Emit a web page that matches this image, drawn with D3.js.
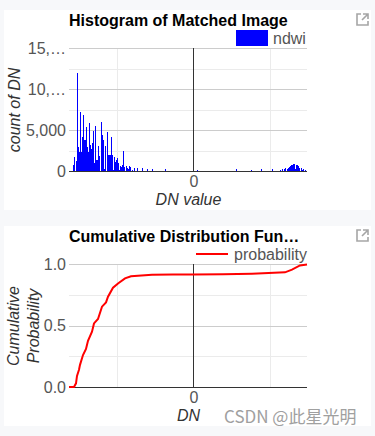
<!DOCTYPE html>
<html>
<head>
<meta charset="utf-8">
<script src="https://cdn.jsdelivr.net/npm/d3@7"></script>
<style>
  html, body { margin: 0; padding: 0; background: #f7f8fa; }
  svg { display: block; font-family: "Liberation Sans", Arial, sans-serif; }
</style>
</head>
<body>
<div id="chart"></div>
<script>
// histogram of matched image
const histDN = [-120,-119,-117,-116,-115,-114,-113,-112,-111,-110,-109,-108,-107,-106,-105,-104,-103,-102,-101,-100,-99,-98,-97,-96,-95,-94,-92,-91,-90,-89,-88,-86,-85,-84,-83,-82,-81,-80,-79,-78,-77,-76,-75,-74,-73,-72,-71,-70,-69,-67,-66,-65,-64,-63,-61,-59,-56,-51,-46,-41,-28,4,43,58,68,79,87,89,91,92,94,95,96,97,98,99,100,101,102,103,104,105,106,108,109,110,112];
const histCount = [700,1700,1200,11900,2900,2300,7200,2300,4200,6850,3800,3800,5400,2950,2300,5900,3200,2700,3400,4900,1000,5500,1350,1350,3000,1800,6000,4400,3800,300,3000,4800,1950,1950,1950,4150,1950,160,1700,1100,1380,1600,1000,150,570,500,770,2500,490,650,370,240,650,490,160,400,400,400,280,280,240,100,250,120,240,240,120,200,200,320,250,320,530,650,730,770,810,850,200,730,730,610,320,320,120,200,120,650];

// cumulative distribution
const cdfDN = [-124,-119,-117,-116,-114,-113,-110,-107,-105,-101,-99,-95,-91,-87,-85,-80,-75,-68,-62,-55,-41,-20,0,30,59,92,99,107,114];
const cdfProb = [0,0,0.03,0.09,0.14,0.18,0.26,0.31,0.375,0.45,0.517,0.553,0.653,0.688,0.734,0.807,0.842,0.883,0.9,0.905,0.913,0.915,0.915,0.916,0.921,0.932,0.954,0.988,0.995];

const dnDomain = [-124, 114];
const dnGrid = [-76, 77];
const countTicks = [0, 5000, 10000, 15000];
const countLabels = ["0", "5,000", "10,…", "15,…"];
const countMinor = [2500, 7500, 12500];
const probTicks = [0, 0.5, 1];
const probLabels = ["0.0", "0.5", "1.0"];
const probMinor = [0.25, 0.75];

const width = 375, height = 436;
const svg = d3.select('#chart').append('svg').attr('width', width).attr('height', height);

const x = d3.scaleLinear().domain(dnDomain).range([69, 307]);

function panel(props) {
    const { top, bottom, y, ticks, labels, minor, title } = props;

    svg.append('rect').attr('x', 4).attr('y', top).attr('width', 367).attr('height', bottom - top).attr('fill', '#fff');

    const g = svg.append('g');

    // grid
    g.selectAll('.minor').data(minor).join('line')
        .attr('x1', 69).attr('x2', 307)
        .attr('y1', d => Math.round(y(d)) + 0.5).attr('y2', d => Math.round(y(d)) + 0.5)
        .attr('stroke', '#ebebeb');
    g.selectAll('.vgrid').data(dnGrid).join('line')
        .attr('x1', d => x(d) + 0.5).attr('x2', d => x(d) + 0.5)
        .attr('y1', y.range()[1]).attr('y2', y.range()[0])
        .attr('stroke', '#ebebeb');

    const axisY = d3.axisLeft(y).tickValues(ticks).tickFormat((d, i) => labels[i]).tickSize(0).tickPadding(3);
    const ay = g.append('g').attr('transform', 'translate(69,0)').call(axisY);
    ay.select('.domain').remove();
    ay.selectAll('text').attr('font-size', 16).attr('fill', '#555').attr('font-family', 'inherit');

    g.selectAll('.major').data(ticks).join('line')
        .attr('x1', 69).attr('x2', 307)
        .attr('y1', d => Math.round(y(d)) + 0.5).attr('y2', d => Math.round(y(d)) + 0.5)
        .attr('stroke', '#cccccc');

    // title
    svg.append('text').attr('x', 69).attr('y', top + 16)
        .attr('font-size', 16).attr('font-weight', 'bold').attr('fill', '#000').text(title);

    // popout icon
    const icon = svg.append('g').attr('transform', `translate(356,${top + 3})`)
        .attr('fill', 'none').attr('stroke', '#a6a6a6').attr('stroke-width', 1.6);
    icon.append('path').attr('d', 'M5 1H1V12H12V8');
    icon.append('path').attr('d', 'M7 1H12V6M12 1L6 7');

    return g;
}

function baseline(g, y) {
    const y0 = Math.round(y(0)) + 0.5;
    g.append('line').attr('x1', x(0) + 0.5).attr('x2', x(0) + 0.5)
        .attr('y1', y.range()[1]).attr('y2', y0).attr('stroke', '#333');
    g.append('line').attr('x1', 69).attr('x2', 307)
        .attr('y1', y0).attr('y2', y0).attr('stroke', '#333');
    const axisX = d3.axisBottom(x).tickValues([0]).tickFormat(d3.format('d')).tickSize(0).tickPadding(4);
    const ax = g.append('g').attr('transform', `translate(0.5,${y0})`).call(axisX);
    ax.select('.domain').remove();
    ax.selectAll('text').attr('font-size', 16).attr('fill', '#555').attr('font-family', 'inherit');
}

// top chart
const yHist = d3.scaleLinear().domain([0, 15000]).range([171, 48]);
const g1 = panel({ top: 10, bottom: 210, y: yHist, ticks: countTicks, labels: countLabels, minor: countMinor, title: 'Histogram of Matched Image' });

g1.selectAll('.bar').data(histDN).join('rect')
    .attr('x', d => x(d))
    .attr('width', d => x(d + 1) - x(d))
    .attr('y', (d, i) => yHist(histCount[i]))
    .attr('height', (d, i) => yHist(0) - yHist(histCount[i]))
    .attr('fill', '#0000ff')
    .attr('shape-rendering', 'crispEdges');
baseline(g1, yHist);

svg.append('rect').attr('x', 236).attr('y', 30).attr('width', 32).attr('height', 16).attr('fill', '#0000ff');
svg.append('text').attr('x', 273).attr('y', 44).attr('font-size', 16).attr('fill', '#555').text('ndwi');
svg.append('text').attr('x', 188.5).attr('y', 205).attr('text-anchor', 'middle')
    .attr('font-size', 16).attr('font-style', 'italic').attr('fill', '#333').text('DN value');
svg.append('text').attr('transform', 'translate(20,110) rotate(-90)').attr('text-anchor', 'middle')
    .attr('font-size', 16).attr('font-style', 'italic').attr('fill', '#333').text('count of DN');

// bottom chart
const yProb = d3.scaleLinear().domain([0, 1]).range([387, 264]);
const g2 = panel({ top: 226, bottom: 426, y: yProb, ticks: probTicks, labels: probLabels, minor: probMinor, title: 'Cumulative Distribution Fun…' });
baseline(g2, yProb);

const line = d3.line().x(d => x(d)).y((d, i) => yProb(cdfProb[i]));
g2.append('path').datum(cdfDN).attr('d', line)
    .attr('fill', 'none').attr('stroke', '#ff0000').attr('stroke-width', 2);

svg.append('line').attr('x1', 196).attr('x2', 228).attr('y1', 254).attr('y2', 254)
    .attr('stroke', '#ff0000').attr('stroke-width', 2);
svg.append('text').attr('x', 234).attr('y', 260).attr('font-size', 16).attr('fill', '#555').text('probability');
svg.append('text').attr('x', 188.5).attr('y', 421).attr('text-anchor', 'middle')
    .attr('font-size', 16).attr('font-style', 'italic').attr('fill', '#333').text('DN');
svg.append('text').attr('transform', 'translate(19,326) rotate(-90)').attr('text-anchor', 'middle')
    .attr('font-size', 16).attr('font-style', 'italic').attr('fill', '#333').text('Cumulative');
svg.append('text').attr('transform', 'translate(39,326) rotate(-90)').attr('text-anchor', 'middle')
    .attr('font-size', 16).attr('font-style', 'italic').attr('fill', '#333').text('Probability');

// watermark
svg.append('text').attr('x', 224).attr('y', 423)
    .attr('font-family', '"Noto Sans CJK SC", "Liberation Sans", sans-serif')
    .attr('font-size', 17).attr('fill', '#a0a0a0').text('CSDN @此星光明');
</script>
</body>
</html>
